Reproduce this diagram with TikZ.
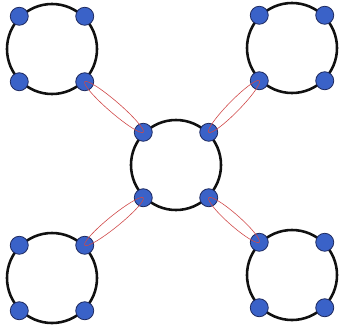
\documentclass[tikz,border=0pt]{standalone}
\usetikzlibrary{calc, shapes.geometric}
\definecolor{ring}   {HTML}{111111}
\definecolor{dot}    {HTML}{3A62C8}
\definecolor{dotline}{HTML}{1E2A60}
\definecolor{link}   {HTML}{D04848}

\begin{document}
\begin{tikzpicture}[x=0.03cm, y=-0.03cm,
    ringnode/.style={circle, draw=ring, line width=2.2pt, minimum size=2.7cm, inner sep=0pt},
    dotnode/.style={circle, fill=dot, draw=dotline, line width=0.7pt, minimum size=0.54cm, inner sep=0pt},
    linkloop/.style={ellipse, draw=link, line width=0.5pt, minimum height=0.34cm, inner sep=0pt}]
  \useasboundingbox (0,0) rectangle (341,327);

  % rings, each with a dot at every corner
  \foreach \name/\x/\y in {tl/52/49, tr/292/48, c/176/165, bl/52/278, br/292/275}
    {\node[ringnode] (\name) at (\x,\y) {};
     \foreach \a/\corner in {45/ne, 135/nw, 225/sw, 315/se}
       \node[dotnode] (\name-\corner) at (\name.\a) {};}

  % narrow loops from the outer rings to the middle one
  \foreach \from/\to in {tl-se/c-nw, tr-sw/c-ne, bl-ne/c-sw, br-nw/c-se}
    \path let \p1 = ($(\to)-(\from)$), \n1 = {veclen(\x1,\y1)} in
      (\from) -- node[linkloop, sloped, minimum width=\n1] {} (\to);
\end{tikzpicture}
\end{document}
